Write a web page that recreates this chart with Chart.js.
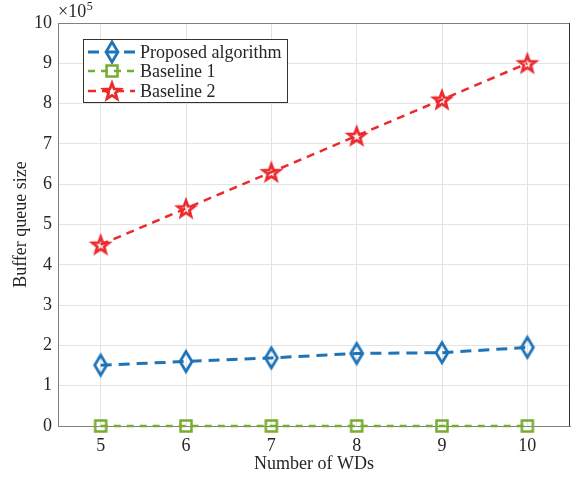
<!DOCTYPE html>
<html>
<head>
<meta charset="utf-8">
<style>
html,body{margin:0;padding:0;background:#fff;}
canvas{display:block;}
</style>
<script src="https://cdn.jsdelivr.net/npm/chart.js@4/dist/chart.umd.min.js"></script>
</head>
<body>
<canvas id="c" width="578" height="481"></canvas>
<script>
// Data (buffer queue size in units of 1e5)
const wds = [5, 6, 7, 8, 9, 10];
const proposed = [1.51, 1.60, 1.69, 1.80, 1.82, 1.95];
const baseline1 = [0, 0, 0, 0, 0, 0];
const baseline2 = [4.5, 5.4, 6.3, 7.2, 8.1, 9.0];
const yTicks = [0, 1, 2, 3, 4, 5, 6, 7, 8, 9, 10];
const seriesLabels = ['Proposed algorithm', 'Baseline 1', 'Baseline 2'];

const BLUE = '#1f73b7', GREEN = '#77ac30', RED = '#ec2a2e';
const FONT = '"Liberation Serif", "Times New Roman", serif';
const TXT = '#262626';

function mk(w, h, draw) {
  const c = document.createElement('canvas');
  c.width = w; c.height = h;
  draw(c.getContext('2d'));
  return c;
}
const diamond = mk(18, 28, g => {
  g.strokeStyle = BLUE; g.lineWidth = 2.8; g.lineJoin = 'miter';
  g.beginPath(); g.moveTo(9, 4); g.lineTo(15, 14); g.lineTo(9, 24); g.lineTo(3, 14); g.closePath(); g.stroke();
});
const square = mk(18, 18, g => {
  g.strokeStyle = GREEN; g.lineWidth = 2.5;
  g.strokeRect(3.5, 3.5, 11, 11);
});
const star = mk(26, 26, g => {
  g.strokeStyle = RED; g.lineWidth = 2.8; g.lineJoin = 'miter';
  g.beginPath();
  for (let i = 0; i < 10; i++) {
    const r = i % 2 === 0 ? 8.6 : 3.6;
    const a = -Math.PI / 2 + i * Math.PI / 5;
    const px = 13 + r * Math.cos(a), py = 13.8 + r * Math.sin(a);
    if (i === 0) g.moveTo(px, py); else g.lineTo(px, py);
  }
  g.closePath(); g.stroke();
});

const toXY = arr => wds.map((x, i) => ({x, y: arr[i]}));

const boxPlugin = {
  id: 'boxPlugin',
  afterDraw(chart) {
    const {ctx, chartArea: a} = chart;
    ctx.save();
    ctx.lineWidth = 1;
    ctx.strokeStyle = '#808080';
    ctx.beginPath();
    ctx.moveTo(a.left + 0.5, a.top + 0.5); ctx.lineTo(a.right - 0.5, a.top + 0.5);
    ctx.stroke();
    ctx.strokeStyle = '#333';
    ctx.beginPath();
    ctx.moveTo(a.right - 0.5, a.top); ctx.lineTo(a.right - 0.5, a.bottom);
    ctx.stroke();
    // exponent label
    ctx.fillStyle = TXT;
    ctx.textBaseline = 'alphabetic';
    ctx.textAlign = 'left';
    ctx.font = '18px ' + FONT;
    ctx.fillText('\u00d710', a.left, 17);
    const w = ctx.measureText('\u00d710').width;
    ctx.font = '12px ' + FONT;
    ctx.fillText('5', a.left + w + 0.5, 10);
    // legend
    const lx = 83, ly = 39, lw = 204, lh = 63;
    ctx.fillStyle = '#fff';
    ctx.fillRect(lx, ly, lw, lh);
    ctx.strokeStyle = '#333';
    ctx.lineWidth = 1;
    ctx.strokeRect(lx + 0.5, ly + 0.5, lw, lh);
    const markers = [diamond, square, star];
    const rows = [52, 71, 91];
    chart.data.datasets.forEach((ds, i) => {
      const y = rows[i];
      ctx.save();
      ctx.strokeStyle = ds.borderColor;
      ctx.lineWidth = ds.borderWidth;
      ctx.setLineDash(ds.borderDash);
      ctx.beginPath(); ctx.moveTo(88, y); ctx.lineTo(135, y); ctx.stroke();
      ctx.restore();
      const m = markers[i];
      ctx.drawImage(m, 112 - m.width / 2, y - m.height / 2);
      ctx.fillStyle = TXT;
      ctx.font = '18px ' + FONT;
      ctx.textBaseline = 'middle';
      ctx.fillText(ds.label, 140, y + 1);
    });
    ctx.restore();
  }
};

new Chart(document.getElementById('c'), {
  type: 'line',
  data: {
    datasets: [
      {label: seriesLabels[0], data: toXY(proposed), borderColor: BLUE, borderWidth: 3, borderDash: [11, 7], pointStyle: diamond, fill: false, clip: false},
      {label: seriesLabels[1], data: toXY(baseline1), borderColor: GREEN, borderWidth: 2.5, borderDash: [7, 6], pointStyle: square, fill: false, clip: false},
      {label: seriesLabels[2], data: toXY(baseline2), borderColor: RED, borderWidth: 2.5, borderDash: [8, 6], pointStyle: star, fill: false, clip: false}
    ]
  },
  options: {
    responsive: false,
    animation: false,
    layout: {padding: {left: 0, top: 23, right: 8, bottom: 0}},
    plugins: {legend: {display: false}, tooltip: {enabled: false}},
    scales: {
      x: {
        type: 'linear', min: 4.5, max: 10.5,
        afterBuildTicks: s => { s.ticks = wds.map(v => ({value: v})); },
        afterFit: s => { s.height = 55; },
        grid: {color: '#e3e3e3', drawTicks: false},
        border: {color: '#808080'},
        ticks: {padding: 9, color: TXT, font: {family: FONT, size: 18}},
        title: {display: true, text: 'Number of WDs', color: TXT, font: {family: FONT, size: 18}, padding: {top: 0, bottom: 6}}
      },
      y: {
        min: 0, max: 10,
        afterBuildTicks: s => { s.ticks = yTicks.map(v => ({value: v})); },
        afterFit: s => { s.width = 58; },
        grid: {color: '#e3e3e3', drawTicks: false},
        border: {color: '#808080'},
        ticks: {padding: 6, color: TXT, font: {family: FONT, size: 18}},
        title: {display: true, text: 'Buffer queue size', color: TXT, font: {family: FONT, size: 18}, padding: {top: 10, bottom: 0}}
      }
    }
  },
  plugins: [boxPlugin]
});
</script>
</body>
</html>
